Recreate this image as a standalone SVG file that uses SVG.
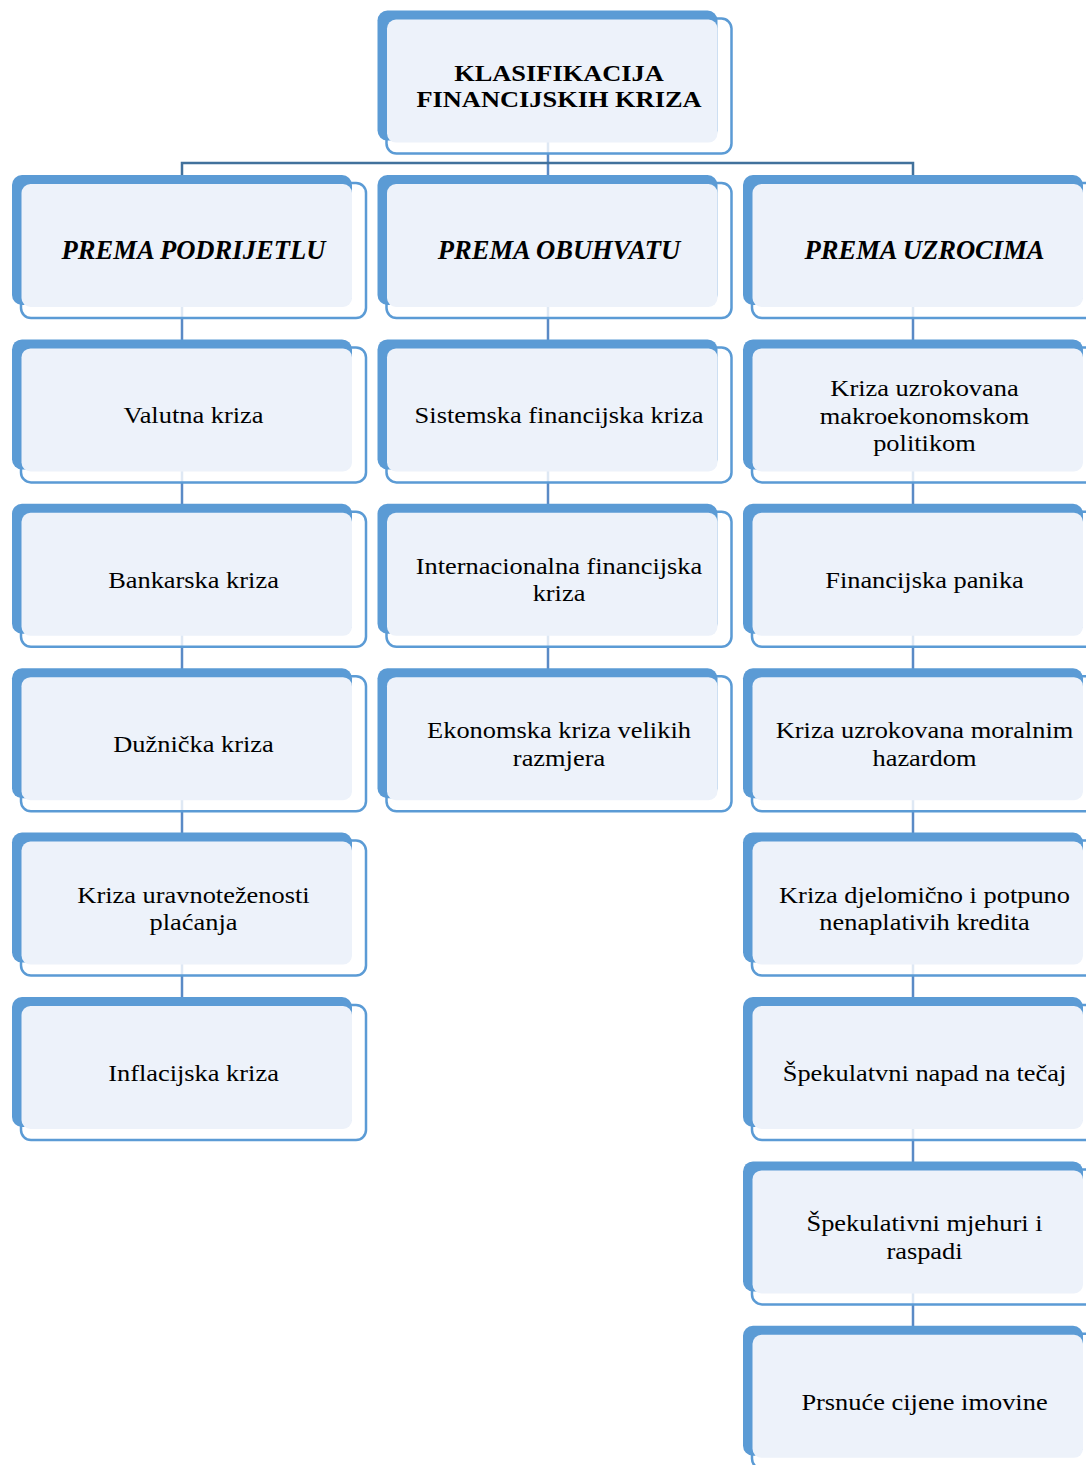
<svg xmlns="http://www.w3.org/2000/svg" width="1086" height="1465" viewBox="0 0 1086 1465">
<style>
.bk{fill:#5B9BD5}
.ol{fill:#ffffff;fill-opacity:0.8;stroke:#5B9BD5;stroke-width:2.5}
.lt{fill:#EDF2FA}
.t{font-family:"Liberation Serif","Times New Roman",serif;font-size:24px;fill:#000;text-anchor:middle}
.h{font-family:"Liberation Serif","Times New Roman",serif;font-size:26.6px;font-weight:bold;font-style:italic;fill:#000;text-anchor:middle}
.r{font-family:"Liberation Serif","Times New Roman",serif;font-size:24px;font-weight:bold;fill:#000;text-anchor:middle}
.c{stroke:#5A8AC6;stroke-width:2.5;fill:none}
.cm{stroke:#41719C;stroke-width:2.5;fill:none}
</style>
<defs>
<g id="box">
<rect class="ol" x="9" y="8" width="345" height="135" rx="10"/>
<rect class="bk" x="0" y="0" width="340" height="130" rx="10"/>
<rect class="lt" x="9.5" y="9" width="330.5" height="123" rx="9"/>
</g>
</defs>
<g id="connectors">
<line class="c" x1="548" y1="142" x2="548" y2="176"/>
<polyline class="cm" points="182,176 182,163 913,163 913,176"/>
<line class="c" x1="182" y1="306" x2="182" y2="340"/>
<line class="c" x1="182" y1="470" x2="182" y2="504"/>
<line class="c" x1="182" y1="635" x2="182" y2="669"/>
<line class="c" x1="182" y1="799" x2="182" y2="833"/>
<line class="c" x1="182" y1="964" x2="182" y2="998"/>
<line class="c" x1="548" y1="306" x2="548" y2="340"/>
<line class="c" x1="548" y1="470" x2="548" y2="504"/>
<line class="c" x1="548" y1="635" x2="548" y2="669"/>
<line class="c" x1="913" y1="306" x2="913" y2="340"/>
<line class="c" x1="913" y1="470" x2="913" y2="504"/>
<line class="c" x1="913" y1="635" x2="913" y2="669"/>
<line class="c" x1="913" y1="799" x2="913" y2="833"/>
<line class="c" x1="913" y1="964" x2="913" y2="998"/>
<line class="c" x1="913" y1="1128" x2="913" y2="1162"/>
<line class="c" x1="913" y1="1293" x2="913" y2="1327"/>
</g>
<g id="root" transform="translate(377.5,10.6)"><use href="#box"/><text class="r" transform="translate(181.5,70.2) scale(1.1,1)"><tspan x="0">KLASIFIKACIJA</tspan><tspan x="0" dy="26.7">FINANCIJSKIH KRIZA</tspan></text></g>
<g id="h1" transform="translate(12,175)"><use href="#box"/><text class="h" x="181.5" y="84">PREMA PODRIJETLU</text></g>
<g id="h2" transform="translate(377.5,175)"><use href="#box"/><text class="h" x="181.5" y="84">PREMA OBUHVATU</text></g>
<g id="h3" transform="translate(743,175)"><use href="#box"/><text class="h" x="181.5" y="84">PREMA UZROCIMA</text></g>
<g id="a1" transform="translate(12,339.4)"><use href="#box"/><text class="t" transform="translate(181.5,84) scale(1.1,1)">Valutna kriza</text></g>
<g id="a2" transform="translate(12,503.8)"><use href="#box"/><text class="t" transform="translate(181.5,84) scale(1.1,1)">Bankarska kriza</text></g>
<g id="a3" transform="translate(12,668.2)"><use href="#box"/><text class="t" transform="translate(181.5,84) scale(1.1,1)">Dužnička kriza</text></g>
<g id="a4" transform="translate(12,832.6)"><use href="#box"/><text class="t" transform="translate(181.5,70) scale(1.1,1)"><tspan x="0">Kriza uravnoteženosti</tspan><tspan x="0" dy="27.5">plaćanja</tspan></text></g>
<g id="a5" transform="translate(12,997)"><use href="#box"/><text class="t" transform="translate(181.5,84) scale(1.1,1)">Inflacijska kriza</text></g>
<g id="b1" transform="translate(377.5,339.4)"><use href="#box"/><text class="t" transform="translate(181.5,84) scale(1.1,1)">Sistemska financijska kriza</text></g>
<g id="b2" transform="translate(377.5,503.8)"><use href="#box"/><text class="t" transform="translate(181.5,70) scale(1.1,1)"><tspan x="0">Internacionalna financijska</tspan><tspan x="0" dy="27.5">kriza</tspan></text></g>
<g id="b3" transform="translate(377.5,668.2)"><use href="#box"/><text class="t" transform="translate(181.5,70) scale(1.1,1)"><tspan x="0">Ekonomska kriza velikih</tspan><tspan x="0" dy="27.5">razmjera</tspan></text></g>
<g id="c1" transform="translate(743,339.4)"><use href="#box"/><text class="t" transform="translate(181.5,57) scale(1.1,1)"><tspan x="0">Kriza uzrokovana</tspan><tspan x="0" dy="27.5">makroekonomskom</tspan><tspan x="0" dy="27.5">politikom</tspan></text></g>
<g id="c2" transform="translate(743,503.8)"><use href="#box"/><text class="t" transform="translate(181.5,84) scale(1.1,1)">Financijska panika</text></g>
<g id="c3" transform="translate(743,668.2)"><use href="#box"/><text class="t" transform="translate(181.5,70) scale(1.1,1)"><tspan x="0">Kriza uzrokovana moralnim</tspan><tspan x="0" dy="27.5">hazardom</tspan></text></g>
<g id="c4" transform="translate(743,832.6)"><use href="#box"/><text class="t" transform="translate(181.5,70) scale(1.1,1)"><tspan x="0">Kriza djelomično i potpuno</tspan><tspan x="0" dy="27.5">nenaplativih kredita</tspan></text></g>
<g id="c5" transform="translate(743,997)"><use href="#box"/><text class="t" transform="translate(181.5,84) scale(1.1,1)">Špekulatvni napad na tečaj</text></g>
<g id="c6" transform="translate(743,1161.4)"><use href="#box"/><text class="t" transform="translate(181.5,70) scale(1.1,1)"><tspan x="0">Špekulativni mjehuri i</tspan><tspan x="0" dy="27.5">raspadi</tspan></text></g>
<g id="c7" transform="translate(743,1325.8)"><use href="#box"/><text class="t" transform="translate(181.5,84) scale(1.1,1)">Prsnuće cijene imovine</text></g>
</svg>
